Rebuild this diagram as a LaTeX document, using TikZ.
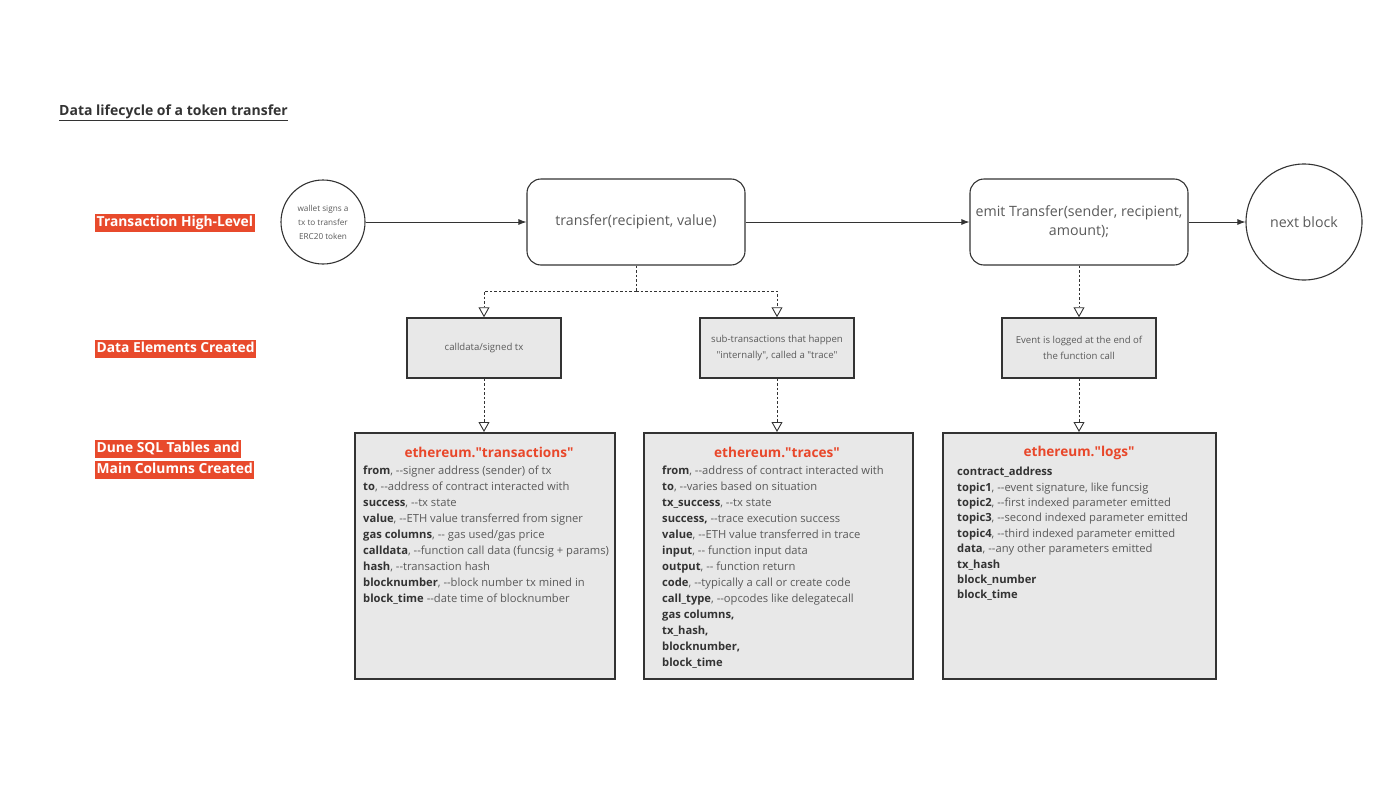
\documentclass[tikz,border=0pt]{standalone}
\usepackage{fontspec}
\setmainfont{Open Sans}[Ligatures=NoCommon]
\usetikzlibrary{arrows.meta,positioning}
\definecolor{lblred}{HTML}{E84A2C}
\definecolor{ttlred}{HTML}{E8472A}
\definecolor{boxgray}{HTML}{E8E8E8}
\definecolor{txtgray}{HTML}{5A5A5A}
\definecolor{dark}{HTML}{333333}
\tikzset{
  lbl/.style={fill=lblred,text=white,font=\bfseries\fontsize{13.8}{15}\selectfont,inner xsep=1.5pt,inner ysep=2pt,anchor=west,text height=10.5pt,text depth=3.5pt},
  circ/.style={circle,draw=dark,line width=1.1pt,text=txtgray,align=center},
  rbox/.style={rectangle,rounded corners=14pt,draw=dark,line width=1.1pt,text=txtgray,align=center,minimum width=218pt,minimum height=86pt,font=\fontsize{14.2}{19}\selectfont},
  gbox/.style={rectangle,draw=dark,line width=1.5pt,fill=boxgray,text=txtgray,align=center,minimum width=154pt,minimum height=60pt,font=\fontsize{9.6}{16}\selectfont},
  tbl/.style={rectangle,draw=dark,line width=1.5pt,fill=boxgray,anchor=north west},
  tbltitle/.style={text=ttlred,font=\bfseries\fontsize{13.6}{15}\selectfont},
  rows/.style={anchor=north west,align=left,text=txtgray,font=\fontsize{11.2}{16}\selectfont,inner sep=0pt},
  solidarr/.style={draw=dark,line width=0.9pt,-{Latex[length=8pt,width=6pt]}},
  dsh/.style={draw=dark,line width=0.9pt,dash pattern=on 2.5pt off 2pt,-{Triangle[open,length=10pt,width=11pt]}},
  dshline/.style={draw=dark,line width=0.9pt,dash pattern=on 2.5pt off 2pt}
}
\newcommand{\kb}[1]{\textbf{\textcolor{dark}{#1}}}
\newcommand{\dd}{-{}-}
\newcommand{\qq}{\textquotedbl}
\begin{document}
\begin{tikzpicture}[x=1pt,y=-1pt]
\useasboundingbox (0,0) rectangle (1400,787);
% title
\node[anchor=west,text=dark,font=\bfseries\fontsize{14}{16}\selectfont,inner sep=0pt] (title) at (59,113) {\underline{Data lifecycle of a token transfer}};
% row labels
\node[lbl] (l1) at (95,222.5) {Transaction High-Level};
\node[lbl] (l2) at (95,348.5) {Data Elements Created};
\node[lbl] (l3a) at (95,448.5) {Dune SQL Tables and};
\node[lbl] (l3b) at (95,469.5) {Main Columns Created};
% top row
\node[circ,minimum size=84pt,font=\fontsize{8.2}{14}\selectfont] (wallet) at (323,222) {wallet signs a\\tx to transfer\\ERC20 token};
\node[rbox] (xfer) at (636,222) {transfer(recipient, value)};
\node[rbox] (emit) at (1079,222) {emit Transfer(sender, recipient,\\amount);};
\node[circ,minimum size=116pt,font=\fontsize{14.2}{17}\selectfont] (next) at (1304,222) {next block};
\draw[solidarr] (wallet) -- (xfer);
\draw[solidarr] (xfer) -- (emit);
\draw[solidarr] (emit) -- (next);
% data elements
\node[gbox] (cd) at (484,348) {calldata/signed tx};
\node[gbox] (tr) at (777,348) {sub-transactions that happen\\\qq internally\qq, called a \qq trace\qq};
\node[gbox] (ev) at (1079,348) {Event is logged at the end of\\the function call};
\coordinate (split) at (636,291);
\draw[dshline] (xfer.south) -- (split);
\draw[dsh] (split) -| (cd.north);
\draw[dsh] (split) -| (tr.north);
\draw[dsh] (emit.south) -- (ev.north);
% tables
\node[tbl,minimum width=260pt,minimum height=246pt] (t1) at (354,432) {};
\node[tbl,minimum width=269pt,minimum height=246pt] (t2) at (643,432) {};
\node[tbl,minimum width=273pt,minimum height=246pt] (t3) at (942,432) {};
\draw[dsh] (cd.south) -- (cd.south |- t1.north);
\draw[dsh] (tr.south) -- (tr.south |- t2.north);
\draw[dsh] (ev.south) -- (ev.south |- t3.north);
\node[tbltitle] (t1t) at (489,452) {ethereum.\qq transactions\qq};
\node[tbltitle] (t2t) at (777,452) {ethereum.\qq traces\qq};
\node[tbltitle] (t3t) at (1079,453) {ethereum.\qq logs\qq};
\node[rows] (t1r) at (363,466) {\kb{from}, \dd signer address (sender) of tx\\
\kb{to}, \dd address of contract interacted with\\
\kb{success}, \dd tx state\\
\kb{value}, \dd ETH value transferred from signer\\
\kb{gas columns}, \dd{} gas used/gas price\\
\kb{calldata}, \dd function call data (funcsig + params)\\
\kb{hash}, \dd transaction hash\\
\kb{blocknumber}, \dd block number tx mined in\\
\kb{block\_time} \dd date time of blocknumber};
\node[rows] (t2r) at (662,466) {\kb{from}, \dd address of contract interacted with\\
\kb{to}, \dd varies based on situation\\
\kb{tx\_success}, \dd tx state\\
\kb{success,} \dd trace execution success\\
\kb{value}, \dd ETH value transferred in trace\\
\kb{input}, \dd{} function input data\\
\kb{output}, \dd{} function return\\
\kb{code}, \dd typically a call or create code\\
\kb{call\_type}, \dd opcodes like delegatecall\\
\kb{gas columns,}\\
\kb{tx\_hash,}\\
\kb{blocknumber,}\\
\kb{block\_time}};
\node[rows,font=\fontsize{11.2}{15.4}\selectfont] (t3r) at (957,467) {\kb{contract\_address}\\
\kb{topic1}, \dd event signature, like funcsig\\
\kb{topic2}, \dd first indexed parameter emitted\\
\kb{topic3}, \dd second indexed parameter emitted\\
\kb{topic4}, \dd third indexed parameter emitted\\
\kb{data}, \dd any other parameters emitted\\
\kb{tx\_hash}\\
\kb{block\_number}\\
\kb{block\_time}};
\end{tikzpicture}
\end{document}
